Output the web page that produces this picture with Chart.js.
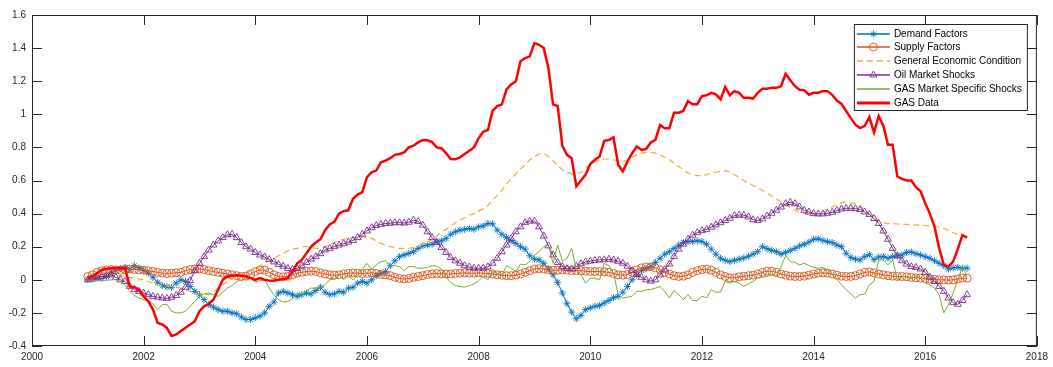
<!DOCTYPE html>
<html>
<head>
<meta charset="utf-8">
<script src="https://cdn.jsdelivr.net/npm/chart.js@4.4.1/dist/chart.umd.min.js"></script>
<style>
  html, body { margin: 0; padding: 0; background: #ffffff; }
  canvas { display: block; }
</style>
</head>
<body>
<canvas id="chart" width="1053" height="367"></canvas>
<script>
// Monthly decomposition of gas prices, Jan 2001 – Oct 2016
const startYear = 2001;

const seriesNames = [
  'Demand Factors',
  'Supply Factors',
  'General Economic Condition',
  'Oil Market Shocks',
  'GAS Market Specific Shocks',
  'GAS Data'
];

// one row per year (12 months), last row Jan–Oct 2016
const demandFactors = [
  0.0, 0.005, 0.01, 0.01, 0.02, 0.04, 0.055, 0.068, 0.075, 0.062, 0.085, 0.072,
  0.058, 0.04, 0.015, -0.015, -0.035, -0.043, -0.045, -0.02, 0.0, -0.01, -0.04, -0.07,
  -0.09, -0.12, -0.15, -0.165, -0.18, -0.19, -0.19, -0.2, -0.205, -0.225, -0.24, -0.24,
  -0.23, -0.22, -0.2, -0.16, -0.135, -0.08, -0.07, -0.08, -0.09, -0.1, -0.09, -0.08,
  -0.085, -0.065, -0.045, -0.075, -0.09, -0.085, -0.07, -0.075, -0.05, -0.045, -0.02, -0.01,
  -0.02, 0.0, 0.025, 0.04, 0.05, 0.085, 0.115, 0.14, 0.15, 0.16, 0.17, 0.19,
  0.205, 0.21, 0.215, 0.23, 0.235, 0.25, 0.275, 0.29, 0.3, 0.305, 0.31, 0.305,
  0.32, 0.325, 0.34, 0.338, 0.3, 0.275, 0.255, 0.235, 0.22, 0.2, 0.185, 0.145,
  0.125, 0.12, 0.1, 0.065, 0.03, -0.015, -0.08, -0.145, -0.195, -0.235, -0.215, -0.18,
  -0.17, -0.16, -0.155, -0.14, -0.125, -0.108, -0.1, -0.075, -0.04, 0.0, 0.03, 0.055,
  0.068, 0.08, 0.105, 0.13, 0.155, 0.17, 0.19, 0.21, 0.225, 0.23, 0.232, 0.235,
  0.232, 0.215, 0.185, 0.155, 0.13, 0.118, 0.11, 0.118, 0.125, 0.132, 0.142, 0.155,
  0.17, 0.2, 0.188, 0.178, 0.17, 0.155, 0.165, 0.178, 0.19, 0.205, 0.215, 0.228,
  0.245, 0.248, 0.238, 0.23, 0.225, 0.21, 0.2, 0.16, 0.135, 0.125, 0.12, 0.14,
  0.152, 0.122, 0.138, 0.14, 0.13, 0.14, 0.145, 0.15, 0.165, 0.168, 0.158, 0.15,
  0.14, 0.13, 0.115, 0.1, 0.085, 0.065, 0.072, 0.075, 0.07, 0.07
];

const supplyFactors = [
  0.02, 0.03, 0.045, 0.055, 0.06, 0.062, 0.06, 0.058, 0.062, 0.065, 0.063, 0.06,
  0.058, 0.055, 0.05, 0.045, 0.04, 0.038, 0.04, 0.042, 0.045, 0.055, 0.062, 0.065,
  0.065, 0.062, 0.055, 0.05, 0.045, 0.04, 0.035, 0.03, 0.025, 0.02, 0.022, 0.035,
  0.05, 0.06, 0.058, 0.045, 0.03, 0.02, 0.018, 0.022, 0.03, 0.04, 0.045, 0.05,
  0.052, 0.05, 0.042, 0.035, 0.03, 0.028, 0.03, 0.035, 0.04, 0.042, 0.04, 0.038,
  0.04, 0.042, 0.038, 0.032, 0.03, 0.025, 0.015, 0.008, 0.005, 0.008, 0.015, 0.02,
  0.025, 0.032, 0.036, 0.038, 0.036, 0.035, 0.035, 0.038, 0.04, 0.042, 0.04, 0.04,
  0.042, 0.04, 0.038, 0.035, 0.03, 0.027, 0.025, 0.025, 0.028, 0.035, 0.045, 0.055,
  0.065, 0.068, 0.065, 0.06, 0.058, 0.058, 0.06, 0.058, 0.055, 0.055, 0.055, 0.052,
  0.05, 0.05, 0.05, 0.048, 0.045, 0.038, 0.03, 0.028, 0.032, 0.045, 0.06, 0.072,
  0.078, 0.078, 0.072, 0.06, 0.045, 0.035, 0.025, 0.02, 0.022, 0.03, 0.045, 0.055,
  0.062, 0.065, 0.058, 0.045, 0.03, 0.02, 0.012, 0.012, 0.018, 0.022, 0.025, 0.028,
  0.035, 0.045, 0.052, 0.052, 0.045, 0.035, 0.028, 0.022, 0.02, 0.02, 0.022, 0.028,
  0.035, 0.04, 0.042, 0.04, 0.035, 0.028, 0.022, 0.02, 0.02, 0.025, 0.035, 0.045,
  0.048, 0.042, 0.035, 0.03, 0.025, 0.022, 0.02, 0.02, 0.018, 0.015, 0.012, 0.01,
  0.008, 0.005, 0.003, 0.0, 0.0, -0.002, 0.0, 0.005, 0.01, 0.01
];

const generalEconomic = [
  0.0, 0.005, 0.01, 0.015, 0.02, 0.025, 0.025, 0.025, 0.02, 0.015, 0.01, 0.005,
  0.0, -0.01, -0.02, -0.03, -0.035, -0.04, -0.04, -0.045, -0.05, -0.06, -0.07, -0.08,
  -0.085, -0.09, -0.09, -0.075, -0.05, -0.03, -0.01, 0.005, 0.015, 0.025, 0.04, 0.055,
  0.065, 0.08, 0.1, 0.115, 0.13, 0.145, 0.16, 0.175, 0.185, 0.19, 0.2, 0.2,
  0.195, 0.19, 0.19, 0.2, 0.215, 0.225, 0.235, 0.245, 0.25, 0.255, 0.26, 0.26,
  0.255, 0.25, 0.235, 0.22, 0.21, 0.2, 0.195, 0.19, 0.19, 0.19, 0.195, 0.2,
  0.21, 0.225, 0.245, 0.265, 0.285, 0.305, 0.325, 0.345, 0.36, 0.375, 0.39, 0.4,
  0.415, 0.43, 0.45, 0.48, 0.51, 0.54, 0.58, 0.61, 0.64, 0.67, 0.695, 0.725,
  0.745, 0.76, 0.765, 0.745, 0.72, 0.69, 0.665, 0.65, 0.64, 0.64, 0.65, 0.675,
  0.7, 0.715, 0.725, 0.73, 0.73, 0.725, 0.72, 0.715, 0.72, 0.74, 0.755, 0.765,
  0.77, 0.77, 0.765, 0.755, 0.74, 0.725, 0.705, 0.685, 0.665, 0.645, 0.635, 0.63,
  0.63, 0.635, 0.645, 0.65, 0.655, 0.66, 0.65, 0.635, 0.62, 0.6, 0.585, 0.57,
  0.555, 0.54, 0.525, 0.505, 0.49, 0.47, 0.455, 0.435, 0.42, 0.41, 0.4, 0.395,
  0.395, 0.4, 0.41, 0.425, 0.44, 0.455, 0.465, 0.47, 0.465, 0.46, 0.44, 0.42,
  0.395, 0.37, 0.355, 0.345, 0.34, 0.34, 0.337, 0.335, 0.335, 0.333, 0.33, 0.33,
  0.328, 0.325, 0.322, 0.32, 0.31, 0.3, 0.285, 0.275, 0.265, 0.258
];

const oilMarketShocks = [
  0.0, 0.005, 0.015, 0.02, 0.025, 0.03, 0.015, 0.0, -0.01, -0.04, -0.06, -0.07,
  -0.08, -0.09, -0.1, -0.105, -0.11, -0.112, -0.105, -0.095, -0.075, -0.045, -0.005, 0.055,
  0.1, 0.14, 0.18, 0.21, 0.235, 0.255, 0.272, 0.275, 0.255, 0.225, 0.2, 0.185,
  0.165, 0.15, 0.138, 0.122, 0.108, 0.093, 0.082, 0.068, 0.063, 0.068, 0.085, 0.105,
  0.125, 0.14, 0.158, 0.18, 0.19, 0.2, 0.21, 0.218, 0.228, 0.238, 0.255, 0.275,
  0.295, 0.315, 0.328, 0.335, 0.34, 0.342, 0.345, 0.345, 0.343, 0.348, 0.36, 0.352,
  0.33, 0.29, 0.255, 0.225, 0.195, 0.165, 0.135, 0.115, 0.1, 0.085, 0.077, 0.07,
  0.07, 0.07, 0.078, 0.1, 0.13, 0.17, 0.21, 0.25, 0.29, 0.32, 0.345, 0.355,
  0.355, 0.32, 0.265, 0.205, 0.15, 0.105, 0.08, 0.067, 0.065, 0.08, 0.097, 0.108,
  0.113, 0.117, 0.12, 0.121, 0.124, 0.12, 0.112, 0.1, 0.082, 0.055, 0.033, 0.015,
  0.0, -0.008, 0.0, 0.03, 0.06, 0.095, 0.14, 0.185, 0.215, 0.245, 0.27, 0.285,
  0.297, 0.305, 0.318, 0.332, 0.345, 0.358, 0.372, 0.388, 0.392, 0.39, 0.38, 0.363,
  0.358, 0.368, 0.385, 0.402, 0.42, 0.44, 0.46, 0.468, 0.46, 0.44, 0.42, 0.41,
  0.4, 0.398, 0.398, 0.402, 0.408, 0.418, 0.428, 0.432, 0.432, 0.43, 0.425, 0.41,
  0.395, 0.37, 0.34, 0.295, 0.245, 0.19, 0.145, 0.115, 0.095, 0.08, 0.075, 0.065,
  0.045, 0.015, -0.01, -0.04, -0.07, -0.11, -0.138, -0.148, -0.125, -0.09
];

const gasMarketShocks = [
  0.0, -0.005, -0.005, -0.005, -0.003, 0.0, 0.0, -0.01, -0.03, -0.07, -0.095, -0.11,
  -0.12, -0.125, -0.145, -0.18, -0.15, -0.148, -0.19, -0.2, -0.2, -0.19, -0.16, -0.13,
  -0.1, -0.085, -0.08, -0.09, -0.1, -0.075, -0.05, -0.035, -0.01, 0.0, 0.005, 0.01,
  -0.015, -0.005, 0.0, -0.05, -0.09, -0.12, -0.135, -0.13, -0.115, -0.08, -0.09, -0.065,
  -0.05, -0.05, -0.05, -0.03, 0.0, 0.005, 0.03, 0.0, 0.03, 0.0, 0.025, 0.06,
  0.1, 0.06, 0.09, 0.11, 0.115, 0.09, 0.085, 0.08, 0.055, 0.08, 0.08, 0.07,
  0.07, 0.075, 0.085, 0.082, 0.065, 0.015, -0.015, -0.035, -0.04, -0.045, -0.035, -0.025,
  -0.005, 0.02, 0.0, 0.05, 0.04, 0.03, 0.085, 0.07, 0.05, 0.095, 0.09, 0.11,
  0.15, 0.17, 0.2, 0.21, 0.1, 0.21, 0.11, 0.13, 0.19, 0.06, 0.03, -0.02,
  0.01, 0.01, 0.0, 0.1, 0.085, 0.04, -0.09, -0.11, -0.105, -0.1, -0.07, -0.07,
  -0.06, -0.06, -0.05, -0.04, -0.07, -0.11, -0.065, -0.09, -0.12, -0.09, -0.125, -0.125,
  -0.1, -0.11, -0.06, -0.075, -0.075, -0.01, -0.02, -0.01, -0.02, -0.04, -0.025, -0.01,
  0.01, 0.015, 0.02, 0.03, 0.02, 0.08, 0.145, 0.11, 0.105, 0.09, 0.1, 0.085,
  0.075, 0.07, 0.075, 0.06, 0.03, 0.005, -0.03, -0.06, -0.085, -0.11, -0.09, -0.087,
  -0.03, -0.01, 0.12, 0.12, 0.09, 0.12, 0.0, 0.02, 0.02, 0.005, 0.025, 0.01,
  -0.02, -0.03, -0.05, -0.09, -0.2, -0.15, -0.08, 0.0, 0.08, 0.02
];

const gasData = [
  0.01, 0.02, 0.04, 0.06, 0.067, 0.07, 0.072, 0.072, 0.07, -0.04, -0.045, -0.06,
  -0.10, -0.13, -0.18, -0.26, -0.27, -0.29, -0.34, -0.33, -0.31, -0.29, -0.27, -0.25,
  -0.19, -0.16, -0.145, -0.12, -0.06, 0.0, 0.02, 0.025, 0.028, 0.025, 0.02, 0.01,
  0.0, 0.01, 0.0, -0.005, -0.006, 0.0, 0.005, 0.01, 0.05, 0.10, 0.12, 0.16,
  0.20, 0.225, 0.245, 0.30, 0.335, 0.35, 0.40, 0.415, 0.42, 0.49, 0.515, 0.53,
  0.62, 0.65, 0.66, 0.71, 0.72, 0.735, 0.755, 0.76, 0.77, 0.80, 0.81, 0.83,
  0.845, 0.843, 0.832, 0.80, 0.795, 0.765, 0.73, 0.728, 0.74, 0.76, 0.78, 0.80,
  0.855, 0.895, 0.905, 1.02, 1.05, 1.06, 1.15, 1.18, 1.20, 1.32, 1.34, 1.35,
  1.43, 1.42, 1.40, 1.28, 1.06, 1.05, 0.81, 0.755, 0.735, 0.565, 0.60, 0.635,
  0.70, 0.725, 0.745, 0.84, 0.845, 0.86, 0.695, 0.655, 0.715, 0.765, 0.805, 0.785,
  0.79, 0.83, 0.845, 0.935, 0.915, 0.915, 1.01, 1.01, 1.02, 1.08, 1.06, 1.06,
  1.11, 1.115, 1.13, 1.12, 1.09, 1.165, 1.115, 1.14, 1.13, 1.10, 1.10, 1.095,
  1.13, 1.155, 1.155, 1.16, 1.16, 1.17, 1.245, 1.205, 1.17, 1.148, 1.145, 1.118,
  1.13, 1.13, 1.14, 1.14, 1.118, 1.083, 1.063, 1.02, 0.977, 0.937, 0.917, 0.93,
  0.983, 0.89, 0.99, 0.93, 0.816, 0.816, 0.624, 0.61, 0.60, 0.60, 0.56, 0.535,
  0.463, 0.40, 0.32, 0.19, 0.09, 0.08, 0.11, 0.185, 0.27, 0.255
];

const xTickValues = [2000, 2002, 2004, 2006, 2008, 2010, 2012, 2014, 2016, 2018];
const xTickLabels = ['2000', '2002', '2004', '2006', '2008', '2010', '2012', '2014', '2016', '2018'];
const yTickValues = [-0.4, -0.2, 0, 0.2, 0.4, 0.6, 0.8, 1, 1.2, 1.4, 1.6];
const yTickLabels = ['-0.4', '-0.2', '0', '0.2', '0.4', '0.6', '0.8', '1', '1.2', '1.4', '1.6'];

const FONT = '"Liberation Sans", Arial, Helvetica, sans-serif';
const AXIS_COLOR = '#262626';

// pair each monthly value with its decimal-year position
const toPoints = values => values.map((v, i) => ({ x: startYear + i / 12, y: v }));

// inward tick marks on all four sides plus the closed axes box
const boxAxes = {
  id: 'boxAxes',
  beforeDatasetsDraw(chart) {
    const { ctx, chartArea: a, scales: { x, y } } = chart;
    const len = 10;
    ctx.save();
    ctx.strokeStyle = AXIS_COLOR;
    ctx.lineWidth = 1;
    ctx.beginPath();
    x.ticks.forEach(t => {
      const px = Math.round(x.getPixelForValue(t.value)) + 0.5;
      ctx.moveTo(px, a.bottom); ctx.lineTo(px, a.bottom - len);
      ctx.moveTo(px, a.top); ctx.lineTo(px, a.top + len);
    });
    y.ticks.forEach(t => {
      const py = Math.round(y.getPixelForValue(t.value)) + 0.5;
      ctx.moveTo(a.left, py); ctx.lineTo(a.left + len, py);
      ctx.moveTo(a.right, py); ctx.lineTo(a.right - len, py);
    });
    ctx.stroke();
    ctx.strokeRect(a.left + 0.5, a.top + 0.5, a.right - a.left - 1, a.bottom - a.top - 1);
    ctx.restore();
  }
};

// boxed legend in the upper-right corner of the plot area
const boxLegend = {
  id: 'boxLegend',
  afterDraw(chart) {
    const { ctx, chartArea: a } = chart;
    const bw = 173, bh = 86;
    const bx = a.right - 183, by = a.top + 9;
    const rowGap = 13.8;
    ctx.save();
    ctx.fillStyle = '#ffffff';
    ctx.fillRect(bx, by, bw, bh);
    ctx.strokeStyle = AXIS_COLOR;
    ctx.lineWidth = 1;
    ctx.strokeRect(bx + 0.5, by + 0.5, bw, bh);
    ctx.font = '10px ' + FONT;
    ctx.textBaseline = 'middle';
    ctx.textAlign = 'left';
    chart.data.datasets.forEach((ds, i) => {
      const yy = Math.round(by + 9.5 + i * rowGap);
      ctx.save();
      ctx.strokeStyle = ds.borderColor;
      ctx.lineWidth = Math.max(1.5, ds.borderWidth + 0.5);
      ctx.setLineDash(ds.borderDash || []);
      ctx.beginPath();
      ctx.moveTo(bx + 3, yy);
      ctx.lineTo(bx + 36, yy);
      ctx.stroke();
      ctx.setLineDash([]);
      if (ds.pointRadius > 0 && Chart.helpers && Chart.helpers.drawPoint) {
        ctx.strokeStyle = ds.pointBorderColor;
        ctx.fillStyle = ds.pointBackgroundColor;
        ctx.lineWidth = ds.pointBorderWidth;
        Chart.helpers.drawPoint(ctx, {
          pointStyle: ds.pointStyle,
          radius: ds.pointRadius,
          borderWidth: ds.pointBorderWidth,
          rotation: 0
        }, bx + 19.5, yy);
      }
      ctx.restore();
      ctx.fillStyle = '#000000';
      ctx.fillText(seriesNames[i], bx + 40, yy + 0.5);
    });
    ctx.restore();
  }
};

const styles = [
  { color: '#0072BD', width: 1, style: 'star', radius: 3.5, order: 6 },
  { color: '#D95319', width: 1, style: 'circle', radius: 4, order: 5 },
  { color: '#EDB120', width: 1.2, style: false, radius: 0, order: 4, dash: [6, 4] },
  { color: '#7E2F8E', width: 1, style: 'triangle', radius: 4, order: 3 },
  { color: '#77AC30', width: 1, style: false, radius: 0, order: 2 },
  { color: '#FF0000', width: 2.5, style: false, radius: 0, order: 1 }
];

const seriesValues = [demandFactors, supplyFactors, generalEconomic, oilMarketShocks, gasMarketShocks, gasData];

const datasets = seriesValues.map((vals, i) => {
  const s = styles[i];
  return {
    label: seriesNames[i],
    data: toPoints(vals),
    borderColor: s.color,
    borderWidth: s.width,
    borderDash: s.dash || [],
    pointStyle: s.style,
    pointRadius: s.radius,
    pointBorderColor: s.color,
    pointBackgroundColor: 'rgba(0,0,0,0)',
    pointBorderWidth: 0.9,
    fill: false,
    tension: 0,
    order: s.order
  };
});

new Chart(document.getElementById('chart'), {
  type: 'line',
  data: { datasets },
  options: {
    responsive: false,
    animation: false,
    events: [],
    layout: { padding: { left: 0, right: 14, top: 15, bottom: 0 } },
    plugins: {
      legend: { display: false },
      tooltip: { enabled: false }
    },
    scales: {
      x: {
        type: 'linear',
        min: 2000,
        max: 2018,
        grid: { display: false, drawTicks: false },
        border: { display: false },
        afterBuildTicks: s => { s.ticks = xTickValues.map(v => ({ value: v })); },
        afterFit: s => { s.height = 21; },
        ticks: {
          padding: 5,
          color: AXIS_COLOR,
          font: { family: FONT, size: 10 },
          maxRotation: 0,
          autoSkip: false,
          callback: v => {
            const k = xTickValues.indexOf(v);
            return k >= 0 ? xTickLabels[k] : '';
          }
        }
      },
      y: {
        type: 'linear',
        min: -0.4,
        max: 1.6,
        grid: { display: false, drawTicks: false },
        border: { display: false },
        afterBuildTicks: s => { s.ticks = yTickValues.map(v => ({ value: v })); },
        afterFit: s => { s.width = 32; },
        ticks: {
          padding: 6,
          color: AXIS_COLOR,
          font: { family: FONT, size: 10 },
          autoSkip: false,
          callback: v => {
            const k = yTickValues.findIndex(t => Math.abs(t - v) < 1e-9);
            return k >= 0 ? yTickLabels[k] : '';
          }
        }
      }
    }
  },
  plugins: [boxAxes, boxLegend]
});
</script>
</body>
</html>
